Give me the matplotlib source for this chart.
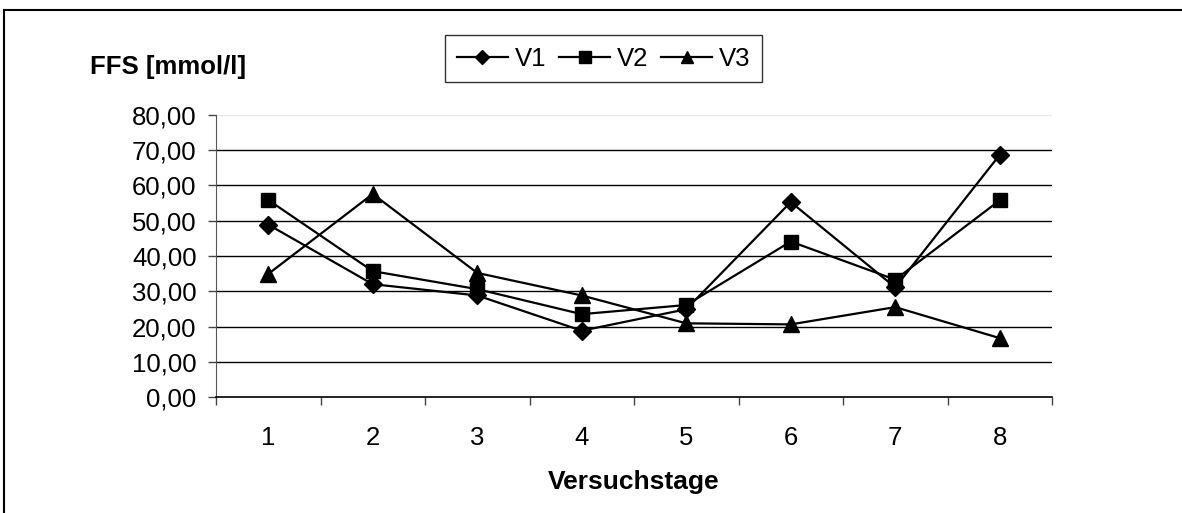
import matplotlib
matplotlib.use("Agg")
import matplotlib.pyplot as plt
from matplotlib.lines import Line2D

plt.rcParams['font.family'] = ['Liberation Sans', 'DejaVu Sans']

days = [1, 2, 3, 4, 5, 6, 7, 8]
v1 = [48.9, 32.0, 28.8, 18.8, 24.9, 55.3, 31.1, 68.7]
v2 = [55.9, 35.7, 30.6, 23.5, 26.1, 44.1, 33.3, 55.8]
v3 = [34.9, 57.6, 35.2, 28.8, 20.9, 20.6, 25.5, 16.7]
yticks = [0, 10, 20, 30, 40, 50, 60, 70, 80]
ytick_labels = ["0,00", "10,00", "20,00", "30,00", "40,00", "50,00", "60,00", "70,00", "80,00"]
series_names = ["V1", "V2", "V3"]

W, H = 1182, 513
fig = plt.figure(figsize=(W / 100, H / 100), dpi=100)
ax = fig.add_axes([216 / W, 1 - 397 / H, (1052 - 216) / W, (397 - 115) / H])

# grid lines
for t in yticks[1:-1]:
    ax.axhline(t, color='black', lw=1.0, zorder=1)
ax.axhline(80, color='#e8e8e8', lw=1.0, zorder=1)

ax.plot(days, v1, color='black', lw=1.6, marker='D', ms=9.5, zorder=3, label=series_names[0])
ax.plot(days, v2, color='black', lw=1.6, marker='s', ms=10.5, zorder=3, label=series_names[1])
ax.plot(days, v3, color='black', lw=1.6, marker='^', ms=11.5, zorder=3, label=series_names[2])

ax.set_xlim(0.5, 8.5)
ax.set_ylim(0, 80)
ax.set_yticks(yticks)
ax.set_yticklabels(ytick_labels)
ax.set_xticks(days)
ax.set_xticklabels([str(d) for d in days])
ax.set_xticks([d + 0.5 for d in [0] + days], minor=True)
ax.tick_params(axis='x', which='major', length=0, pad=21, labelsize=18.5)
ax.tick_params(axis='x', which='minor', length=6, width=1, color='#444444', direction='out')
ax.tick_params(axis='y', length=6, width=1, color='#444444', pad=8, labelsize=18.5)

for s in ['top', 'right']:
    ax.spines[s].set_visible(False)
ax.spines['left'].set_color('#555555')
ax.spines['bottom'].set_color('black')
ax.spines['bottom'].set_linewidth(1.2)

ax.set_xlabel("Versuchstage", fontsize=19, fontweight='bold', labelpad=14)
fig.text(90 / W, 1 - 67 / H, "FFS [mmol/l]", fontsize=18.5, fontweight='bold', va='center', ha='left')

leg = fig.legend(loc='center', bbox_to_anchor=(603.5 / W, 1 - 58.5 / H), ncol=3, frameon=True,
                 fontsize=18.5, handlelength=2.0, handletextpad=0.25, columnspacing=0.5,
                 borderpad=0.45, borderaxespad=0, fancybox=False, markerscale=0.8)
leg.get_frame().set_edgecolor('black')
leg.get_frame().set_linewidth(1.0)

# outer frame (top and left)
fig.add_artist(Line2D([4 / W, 1], [1 - 10 / H, 1 - 10 / H], color='black', lw=1.5, transform=fig.transFigure))
fig.add_artist(Line2D([4 / W, 4 / W], [0, 1 - 10 / H], color='black', lw=1.5, transform=fig.transFigure))

fig.savefig("out.png", dpi=100)
